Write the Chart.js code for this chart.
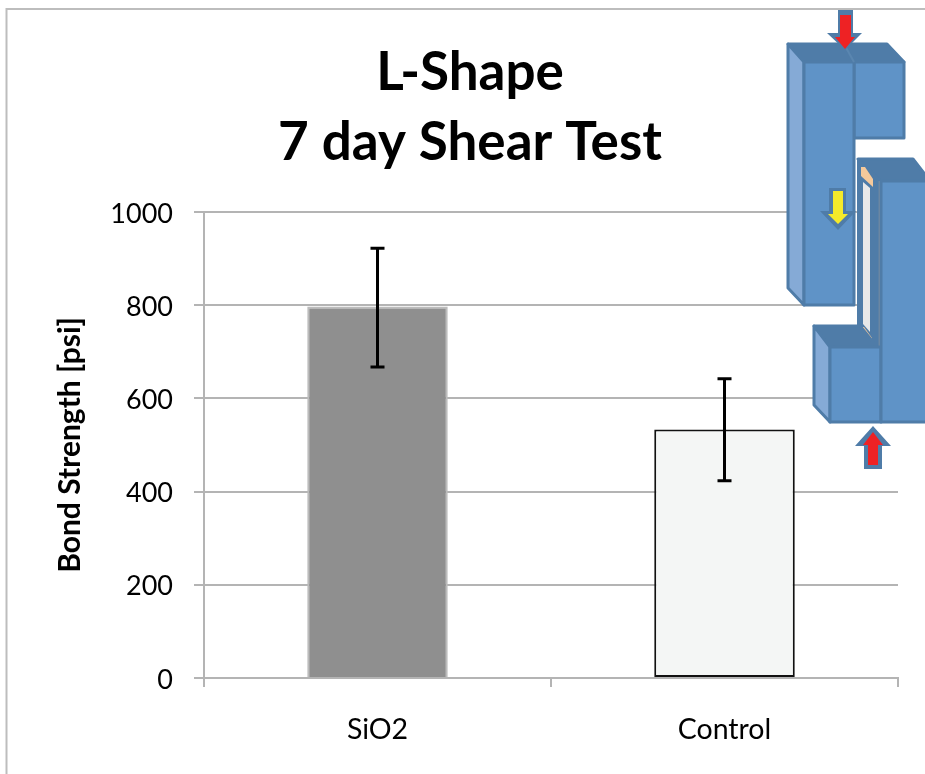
<!DOCTYPE html>
<html>
<head>
<meta charset="utf-8">
<style>html,body{margin:0;padding:0;background:#fff}#w{width:925px;height:774px;position:relative;overflow:hidden}canvas{display:block;filter:blur(0.5px)}</style>
<script src="https://cdn.jsdelivr.net/npm/chart.js@4"></script>
</head>
<body>
<div id="w"><canvas id="c" width="925" height="774"></canvas></div>
<script>
const categories = ["SiO2", "Control"];
const bondStrength = [797, 533];
const errLow = [667, 423];
const errHigh = [922, 642];
const yTicks = [0, 200, 400, 600, 800, 1000];
const titleLines = ["L-Shape", "7 day Shear Test"];
const yAxisTitle = "Bond Strength [psi]";
const barFill = ["#8f8f8f", "#f4f6f5"];
const barEdge = ["#bcbcbc", "#111111"];
const FONT = "Lato, 'Open Sans', sans-serif";

const frame = {
  id: "frame",
  beforeDraw(chart) {
    const c = chart.ctx;
    c.save();
    c.strokeStyle = "#bdbdbd";
    c.lineWidth = 2;
    c.beginPath();
    c.moveTo(925, 9); c.lineTo(6.5, 9); c.lineTo(6.5, 774);
    c.stroke();
    c.restore();
  }
};

const errorBars = {
  id: "errorBars",
  afterDatasetsDraw(chart) {
    const c = chart.ctx, x = chart.scales.x, y = chart.scales.y;
    c.save();
    c.strokeStyle = "#000";
    c.lineWidth = 3;
    categories.forEach((_, i) => {
      const px = x.getPixelForValue(i);
      const hi = y.getPixelForValue(errHigh[i]);
      const lo = y.getPixelForValue(errLow[i]);
      c.beginPath();
      c.moveTo(px, hi); c.lineTo(px, lo);
      c.moveTo(px - 7, hi); c.lineTo(px + 7, hi);
      c.moveTo(px - 7, lo); c.lineTo(px + 7, lo);
      c.stroke();
    });
    c.restore();
  }
};

function poly(c, pts, fill, stroke, lw) {
  c.beginPath();
  pts.forEach((p, i) => i ? c.lineTo(p[0], p[1]) : c.moveTo(p[0], p[1]));
  c.closePath();
  if (fill) { c.fillStyle = fill; c.fill(); }
  if (stroke) { c.strokeStyle = stroke; c.lineWidth = lw || 3; c.lineJoin = "round"; c.stroke(); }
}

const inset = {
  id: "inset",
  afterDraw(chart) {
    const c = chart.ctx;
    const F = "#5f93c7", E = "#4f7ca8", T = "#4f7ca8", L = "#85aad6";
    c.save();
    // upper block
    poly(c, [[788,44],[887,44],[904,62],[804,62]], T, E);
    poly(c, [[788,44],[804,62],[804,305],[788,288]], L, E);
    poly(c, [[854,62],[904,62],[904,138],[854,138]], F, E);
    poly(c, [[804,62],[854,62],[854,305],[804,305]], F, E);
    c.strokeStyle = "#5a86b0"; c.lineWidth = 2;
    c.beginPath(); c.moveTo(844,44); c.lineTo(854,62); c.stroke();
    // lower block: layered column
    poly(c, [[858,159],[913,159],[930,181],[881,181]], T, E);
    poly(c, [[858,159],[881,181],[881,352],[858,326]], T, E, 2);
    poly(c, [[863,182],[870,188],[870,332],[863,324]], "#e9e9e9", null);
    c.strokeStyle = "#86919c"; c.lineWidth = 1.5;
    c.beginPath(); c.moveTo(879.5,181); c.lineTo(879.5,350); c.stroke();
    poly(c, [[861,167],[865,167],[873,179],[873,187],[861,176]], "#f5c99b", null);
    poly(c, [[860,327],[864,327],[872,338],[872,345],[860,334]], "#f5c99b", null);
    poly(c, [[814,326],[860,326],[881,352],[830,347]], T, E);
    poly(c, [[814,326],[830,347],[830,422],[814,405]], L, E);
    poly(c, [[830,347],[881,347],[881,422],[830,422]], F, E);
    poly(c, [[881,181],[930,181],[930,422],[881,422]], F, E);
    // arrows
    poly(c, [[838,10],[853,10],[853,33],[862,33],[845,50],[827,33],[838,33]], T, null);
    poly(c, [[840,15],[851,15],[851,37],[855,37],[845,49],[835,37],[840,37]], "#ee2224", null);
    poly(c, [[829,188],[846,188],[846,211],[856,211],[838,230],[820,211],[829,211]], T, null);
    poly(c, [[833,191],[843,191],[843,214],[848,214],[838,224],[828,214],[833,214]], "#f5ea2a", null);
    poly(c, [[873,426],[891,446],[882,446],[882,469],[864,469],[864,446],[855,446]], T, null);
    poly(c, [[873,432],[883,445],[878,445],[878,465],[868,465],[868,445],[863,445]], "#ee2224", null);
    c.restore();
  }
};

new Chart(document.getElementById("c"), {
  type: "bar",
  data: {
    labels: categories,
    datasets: [{
      data: bondStrength,
      backgroundColor: barFill,
      borderColor: barEdge,
      borderWidth: 2,
      borderSkipped: ctx => ctx.dataIndex === 0 ? "bottom" : false,
      categoryPercentage: 1,
      barPercentage: 0.405
    }]
  },
  plugins: [frame, errorBars, inset],
  options: {
    responsive: false,
    animation: false,
    layout: { padding: { left: 42, right: 27, top: 0, bottom: 0 } },
    plugins: {
      legend: { display: false },
      tooltip: { enabled: false },
      title: {
        display: true,
        text: titleLines,
        color: "#000",
        font: { family: FONT, size: 53, weight: "bold", lineHeight: 1.32 },
        padding: { top: 38, bottom: 34 }
      }
    },
    scales: {
      x: {
        afterFit(s) { s.height = 96; },
        border: { color: "#b4b4b4", width: 2 },
        grid: { drawOnChartArea: false, color: "#b4b4b4", lineWidth: 2, tickLength: 9 },
        ticks: { color: "#000", font: { family: FONT, size: 28.5 }, padding: 26, maxRotation: 0 }
      },
      y: {
        min: 0,
        max: 1000,
        afterFit(s) { s.width = 162; },
        afterBuildTicks(s) { s.ticks = yTicks.map(v => ({ value: v })); },
        border: { color: "#b4b4b4", width: 2 },
        grid: { color: "#b4b4b4", lineWidth: 2, tickLength: 10 },
        ticks: {
          color: "#000",
          font: { family: FONT, size: 27 },
          padding: 21,
          labelOffset: 2,
          callback: v => String(v)
        },
        title: {
          display: true,
          text: yAxisTitle,
          color: "#000",
          font: { family: FONT, size: 30, weight: "bold" },
          padding: { top: 10, bottom: 0 }
        }
      }
    }
  }
});
</script>
</body>
</html>
